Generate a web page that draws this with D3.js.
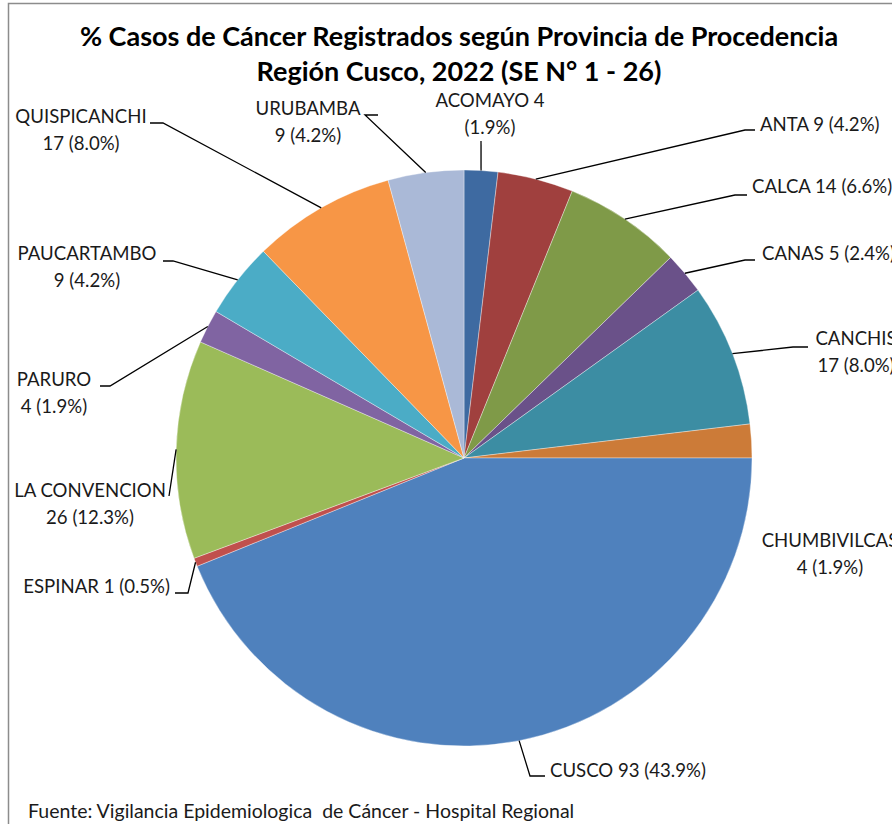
<!DOCTYPE html>
<html>
<head>
<meta charset="utf-8">
<script src="https://cdn.jsdelivr.net/npm/d3@7"></script>
<style>
  html, body { margin: 0; padding: 0; background: #fff; }
  svg { display: block; }
  text { font-family: Lato, "Open Sans", sans-serif; fill: #1a1a1a; white-space: pre; }
</style>
</head>
<body>
<svg id="chart" width="892" height="824"></svg>
<script>
// ── Data ─────────────────────────────────────────────────────
const provincias = ['ACOMAYO', 'ANTA', 'CALCA', 'CANAS', 'CANCHIS', 'CHUMBIVILCAS',
  'CUSCO', 'ESPINAR', 'LA CONVENCION', 'PARURO', 'PAUCARTAMBO', 'QUISPICANCHI', 'URUBAMBA'];
const casos = [4, 9, 14, 5, 17, 4, 93, 1, 26, 4, 9, 17, 9];
const colores = ['#3E6AA1', '#A0403E', '#7F9A48', '#6A5189', '#3C8DA3', '#CC7B38',
  '#4F81BD', '#C0504D', '#9BBB59', '#8064A2', '#4BACC6', '#F79646', '#AAB9D7'];

const titulo = ['% Casos de Cáncer Registrados según Provincia de Procedencia',
  'Región Cusco, 2022 (SE N° 1 - 26)'];
const fuente = 'Fuente: Vigilancia Epidemiologica  de Cáncer - Hospital Regional';

// ── Layout ───────────────────────────────────────────────────
const W = 892, H = 824;
const cx = 464, cy = 458, R = 288;

// label placement: text position, anchor, leader elbow (null = no leader)
const labelPos = {
  'ACOMAYO':       { x: 490, y: 107, anchor: 'middle', split: 'pct', elbow: null, lead: [481, 141] },
  'ANTA':          { x: 760, y: 131, anchor: 'start', one: true, elbow: [745, 130], tail: [755, 130] },
  'CALCA':         { x: 752, y: 193, anchor: 'start', one: true, elbow: [735, 195], tail: [747, 195] },
  'CANAS':         { x: 762, y: 260, anchor: 'start', one: true, elbow: [745, 260], tail: [755, 260] },
  'CANCHIS':       { x: 856, y: 345, anchor: 'middle', elbow: [793, 347], tail: [808, 347] },
  'CHUMBIVILCAS':  { x: 830, y: 547, anchor: 'middle', elbow: null },
  'CUSCO':         { x: 550, y: 777, anchor: 'start', one: true, elbow: [530, 776], tail: [545, 776] },
  'ESPINAR':       { x: 170, y: 593, anchor: 'end', one: true, elbow: [188, 593], tail: [175, 593] },
  'LA CONVENCION': { x: 90,  y: 497, anchor: 'middle', elbow: [169, 496], tail: null },
  'PARURO':        { x: 54,  y: 386, anchor: 'middle', elbow: [110, 386], tail: [100, 386] },
  'PAUCARTAMBO':   { x: 87,  y: 260, anchor: 'middle', elbow: [173, 261], tail: [163, 261] },
  'QUISPICANCHI':  { x: 81,  y: 123, anchor: 'middle', elbow: [163, 123], tail: [150, 123] },
  'URUBAMBA':      { x: 308, y: 115, anchor: 'middle', elbow: [365, 115], tail: [378, 115] }
};

const total = d3.sum(casos);
const fmtPct = v => (v / total * 100).toFixed(1) + '%';

const svg = d3.select('#chart');

// chart frame
svg.append('rect')
  .attr('x', 8.5).attr('y', 3.5)
  .attr('width', W + 20).attr('height', H + 20)
  .attr('fill', '#fff')
  .attr('stroke', '#8c8c8c')
  .attr('stroke-width', 1.5);

// ── Title ────────────────────────────────────────────────────
svg.append('g').selectAll('text')
  .data(titulo)
  .join('text')
  .attr('x', 459)
  .attr('y', (d, i) => 46 + i * 35)
  .attr('text-anchor', 'middle')
  .attr('font-size', '27px')
  .attr('font-weight', 'bold')
  .style('fill', '#000')
  .text(d => d);

// ── Pie ──────────────────────────────────────────────────────
const data = provincias.map((p, i) => ({ name: p, value: casos[i], color: colores[i] }));

const pie = d3.pie()
  .value(d => d.value)
  .sort(null);

const arcs = pie(data);

const arc = d3.arc().innerRadius(0).outerRadius(R);

const g = svg.append('g').attr('transform', `translate(${cx},${cy})`);

g.selectAll('path.slice')
  .data(arcs)
  .join('path')
  .attr('class', 'slice')
  .attr('d', arc)
  .attr('fill', d => d.data.color)
  .attr('stroke', '#ffffff')
  .attr('stroke-opacity', 0.6)
  .attr('stroke-width', 0.6);

// ── Leader lines ─────────────────────────────────────────────
const edgePoint = d => {
  const a = (d.startAngle + d.endAngle) / 2;
  return [cx + R * Math.sin(a), cy - R * Math.cos(a)];
};

const leaders = svg.append('g')
  .attr('fill', 'none')
  .attr('stroke', '#000')
  .attr('stroke-width', 1.3);

arcs.forEach(d => {
  const L = labelPos[d.data.name];
  const p0 = edgePoint(d);
  let pts = null;
  if (L.lead) pts = [p0, L.lead];
  else if (L.elbow) pts = L.tail ? [p0, L.elbow, L.tail] : [p0, L.elbow];
  if (pts) leaders.append('path').attr('d', d3.line()(pts));
});

// ── Labels ───────────────────────────────────────────────────
const labels = svg.append('g').attr('font-size', '18.6px');

arcs.forEach(d => {
  const L = labelPos[d.data.name];
  const v = d.data.value;
  let lines;
  if (L.one) lines = [`${d.data.name} ${v} (${fmtPct(v)})`];
  else if (L.split === 'pct') lines = [`${d.data.name} ${v}`, `(${fmtPct(v)})`];
  else lines = [d.data.name, `${v} (${fmtPct(v)})`];

  labels.append('g').selectAll('text')
    .data(lines)
    .join('text')
    .attr('x', L.x)
    .attr('y', (t, i) => L.y + i * 26.5)
    .attr('text-anchor', L.anchor)
    .text(t => t);
});

// ── Source ───────────────────────────────────────────────────
svg.append('text')
  .attr('x', 28)
  .attr('y', 818)
  .attr('font-size', '19.5px')
  .text(fuente);
</script>
</body>
</html>
